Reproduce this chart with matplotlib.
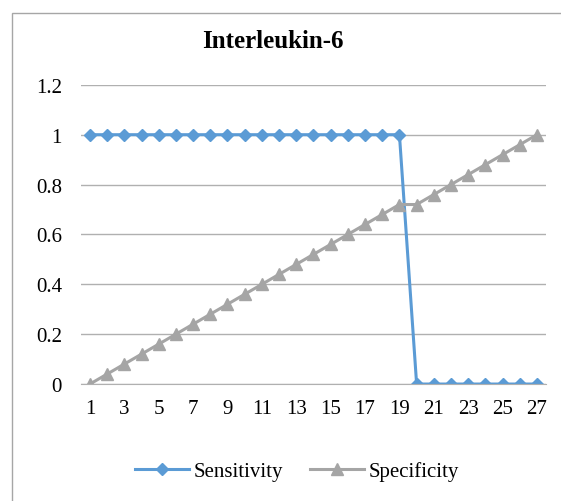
import matplotlib.pyplot as plt
from matplotlib.patches import Rectangle

plt.rcParams['font.family'] = ['Liberation Serif', 'DejaVu Serif']

x = list(range(1, 28))
sensitivity = [1]*19 + [0]*8
specificity = [0, 0.04, 0.08, 0.12, 0.16, 0.2, 0.24, 0.28, 0.32, 0.36, 0.4, 0.44, 0.48,
               0.52, 0.56, 0.6, 0.64, 0.68, 0.72, 0.72, 0.76, 0.8, 0.84, 0.88, 0.92, 0.96, 1.0]
xticks = list(range(1, 28, 2))
yticks = [0, 0.2, 0.4, 0.6, 0.8, 1, 1.2]
yticklabels = ['0', '0.2', '0.4', '0.6', '0.8', '1', '1.2']

fig = plt.figure(figsize=(5.61, 5.02), dpi=100)
# chart border (runs off the right and bottom edges like the screenshot)
fig.patches.append(Rectangle((11.5/561, -0.05), 0.99, 1.05 - 13.5/502, transform=fig.transFigure,
                             fill=False, edgecolor='#A6A6A6', linewidth=1))
ax = fig.add_axes([0.145, 0.233, 0.8275, 0.596])

ax.plot(x, sensitivity, color='#5B9BD5', linewidth=2.2, marker='D', markersize=6.5, label='Sensitivity')
ax.plot(x, specificity, color='#A5A5A5', linewidth=2.2, marker='^', markersize=8.5, label='Specificity')

ax.set_xlim(0.5, 27.5)
ax.set_ylim(0, 1.2)
ax.set_xticks(xticks)
ax.set_yticks(yticks)
ax.set_yticklabels(yticklabels)
ax.tick_params(axis='both', length=0, labelsize=15, pad=11)
ax.tick_params(axis='y', pad=14)
ax.grid(axis='y', color='#B0B0B0', linewidth=1)
ax.set_axisbelow(True)
for s in ax.spines.values():
    s.set_visible(False)
ax.spines['bottom'].set_visible(True)
ax.spines['bottom'].set_color('#B0B0B0')

fig.text(0.487, 0.918, 'Interleukin-6', ha='center', va='center', fontsize=18, fontweight='bold')
fig.legend(loc='center', bbox_to_anchor=(0.529, 0.06), ncol=2, frameon=False, fontsize=15,
           handlelength=2.6, columnspacing=1.3, handletextpad=0.2)

fig.savefig('out.png', dpi=100)
